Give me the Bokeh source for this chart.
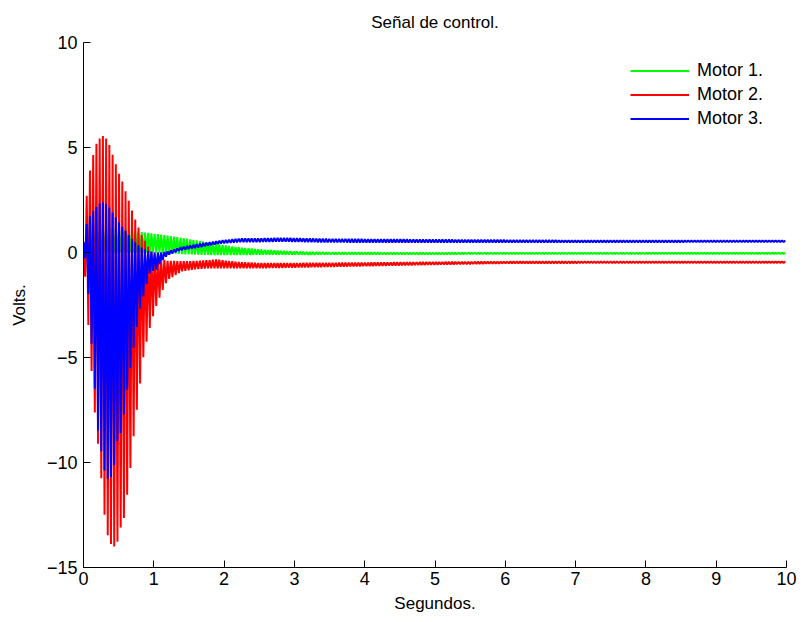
import numpy as np
from bokeh.plotting import figure
from bokeh.models import FixedTicker
from bokeh.embed import file_html
from bokeh.resources import INLINE

# ---------------- data ----------------
chatter_period = 0.046   # seconds between successive chattering peaks
t_end = 10.0

series_names = ["Motor 1.", "Motor 2.", "Motor 3."]
series_colors = ["#00ff00", "#ff0000", "#0000ff"]

# Motor 1 envelope (upper / lower peaks of the chattering signal)
m1_t = [0, 0.05, 0.1, 0.3, 0.5, 0.7, 0.8, 1.0, 1.2, 1.4, 1.6, 1.8, 2.0, 2.2, 2.5, 2.8, 3.2, 4, 5, 6, 8, 10]
m1_upper = [0, 0.6, 1.0, 1.15, 1.15, 1.05, 0.98, 0.9, 0.8, 0.7, 0.58, 0.47, 0.35, 0.25, 0.15, 0.08, 0.02, 0.0, -0.01, -0.02, -0.02, -0.02]
m1_lower = [0, 0.0, 0.0, 0.0, 0.0, 0.0, 0.0, 0.0, -0.03, -0.08, -0.1, -0.12, -0.12, -0.12, -0.11, -0.1, -0.1, -0.09, -0.08, -0.07, -0.06, -0.06]

# Motor 2 envelope
m2_t = [0, 0.02, 0.05, 0.1, 0.17, 0.22, 0.27, 0.31, 0.36, 0.41, 0.46, 0.5, 0.54, 0.58, 0.63, 0.68,
        0.72, 0.77, 0.81, 0.85, 0.9, 0.95, 1.0, 1.05, 1.1, 1.15, 1.2, 1.3, 1.4, 1.6, 1.8, 1.9, 2.0,
        2.2, 2.5, 3, 4, 5, 6, 8, 10]
m2_upper = [0.5, 1.4, 2.9, 4.1, 5.1, 5.4, 5.55, 5.5, 5.2, 4.7, 4.2, 3.8, 3.5, 3.1, 2.6, 2.1,
            1.7, 1.3, 0.95, 0.7, 0.4, 0.1, -0.1, -0.2, -0.3, -0.35, -0.4, -0.4, -0.42, -0.4, -0.36, -0.33, -0.38,
            -0.45, -0.5, -0.5, -0.48, -0.45, -0.43, -0.42, -0.42]
m2_lower = [0.5, -1.0, -2.5, -5.0, -8.0, -9.5, -11.4, -12.9, -13.7, -14.0, -14.0, -13.6, -12.9, -12.6, -11.3, -9.9,
            -8.5, -7.2, -6.1, -5.0, -4.2, -3.5, -2.9, -2.4, -2.0, -1.6, -1.3, -1.1, -0.9, -0.8, -0.75, -0.75, -0.75,
            -0.75, -0.75, -0.72, -0.65, -0.58, -0.52, -0.5, -0.5]

# Motor 3 envelope
m3_t = [0, 0.03, 0.07, 0.12, 0.17, 0.21, 0.27, 0.31, 0.35, 0.39, 0.44, 0.48, 0.54, 0.58, 0.63, 0.68,
        0.73, 0.77, 0.82, 0.87, 0.91, 0.96, 1.02, 1.1, 1.19, 1.38, 1.66, 1.95, 2.23, 2.5, 2.8, 3.5, 5, 7, 10]
m3_upper = [0.5, 1.2, 1.6, 1.9, 2.1, 2.3, 2.4, 2.35, 2.25, 2.0, 1.8, 1.55, 1.3, 1.1, 0.9, 0.67,
            0.5, 0.38, 0.25, 0.15, 0.08, 0.05, 0.0, 0.0, 0.05, 0.25, 0.43, 0.57, 0.67, 0.67, 0.7, 0.65, 0.62, 0.58, 0.57]
m3_lower = [0.5, -0.5, -2.0, -4.6, -6.9, -8.6, -9.8, -10.6, -10.8, -10.7, -10.1, -9.0, -8.5, -7.6, -6.3, -5.2,
            -4.2, -3.3, -2.4, -1.9, -1.3, -0.86, -0.9, -0.46, -0.14, 0.1, 0.25, 0.43, 0.5, 0.5, 0.52, 0.48, 0.47, 0.48, 0.5]

x_ticks = [0, 1, 2, 3, 4, 5, 6, 7, 8, 9, 10]
y_ticks = [-15, -10, -5, 0, 5, 10]
y_tick_labels = ["\u221215", "\u221210", "\u22125", "0", "5", "10"]

title_text = "Señal de control."
x_label = "Segundos."
y_label = "Volts."

FONT = "Liberation Sans"
FS = "17px"
FS_TICK = "18px"
FS_LEG = "18px"


def chattering(t_key, upper, lower):
    """Alternate between the upper and lower envelope values at each chattering peak."""
    n = int(round(t_end / chatter_period))
    t_up = np.arange(n + 1) * chatter_period
    t_lo = t_up + chatter_period / 2
    ts = np.empty(2 * (n + 1))
    vs = np.empty(2 * (n + 1))
    ts[0::2] = t_up
    ts[1::2] = t_lo
    vs[0::2] = np.interp(t_up, t_key, upper)
    vs[1::2] = np.interp(t_lo, t_key, lower)
    keep = ts <= t_end
    return ts[keep], vs[keep]


p = figure(width=803, height=622, x_range=(0, 10), y_range=(-15, 10),
           output_backend="svg", toolbar_location=None,
           min_border_left=83, min_border_right=17, min_border_top=42, min_border_bottom=55)

p.title.text = title_text
p.title.align = "center"
p.title.text_font = FONT
p.title.text_font_size = FS
p.title.text_font_style = "normal"
p.title.text_color = "black"
p.title.standoff = 21

p.outline_line_color = None
p.grid.visible = False

for ax in (p.xaxis[0], p.yaxis[0]):
    ax.major_tick_in = 7
    ax.major_tick_out = 0
    ax.minor_tick_in = 0
    ax.minor_tick_out = 0
    ax.axis_line_color = "black"
    ax.major_tick_line_color = "black"
    ax.major_label_text_font = FONT
    ax.major_label_text_font_size = FS_TICK
    ax.major_label_text_color = "black"
    ax.axis_label_text_font = FONT
    ax.axis_label_text_font_size = FS
    ax.axis_label_text_font_style = "normal"
    ax.axis_label_text_color = "black"

p.xaxis.ticker = FixedTicker(ticks=x_ticks)
p.yaxis.ticker = FixedTicker(ticks=y_ticks)
p.yaxis.major_label_overrides = {v: s for v, s in zip(y_ticks, y_tick_labels)}
p.xaxis.axis_label = x_label
p.yaxis.axis_label = y_label
p.xaxis.major_label_standoff = 4
p.xaxis.axis_label_standoff = 6
p.yaxis.major_label_standoff = 6
p.yaxis.axis_label_standoff = 15

envelopes = [(m1_t, m1_upper, m1_lower), (m2_t, m2_upper, m2_lower), (m3_t, m3_upper, m3_lower)]
for (tk, up, lo), name, col in zip(envelopes, series_names, series_colors):
    ts, vs = chattering(tk, up, lo)
    p.line(ts, vs, line_color=col, line_width=2, legend_label=name)

lg = p.legend[0]
lg.location = (547, 438)
lg.border_line_color = None
lg.background_fill_alpha = 0
lg.padding = 0
lg.margin = 0
lg.spacing = 3
lg.glyph_width = 59
lg.glyph_height = 21
lg.label_height = 21
lg.label_standoff = 8
lg.label_text_font = FONT
lg.label_text_font_size = FS_LEG
lg.label_text_color = "black"

open("out.html", "w").write(file_html(p, INLINE))
